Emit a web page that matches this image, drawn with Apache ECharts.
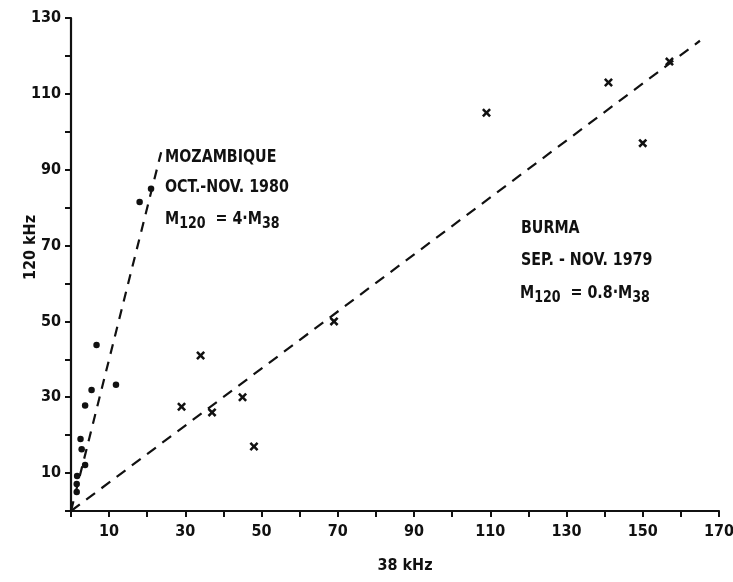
<!DOCTYPE html>
<html>
<head>
<meta charset="utf-8">
<script src="https://cdn.jsdelivr.net/npm/echarts@6/dist/echarts.min.js"></script>
<style>
  html, body { margin: 0; padding: 0; background: #fff; }
  #chart { width: 733px; height: 582px; }
</style>
</head>
<body>
<div id="chart"></div>
<script>
// Mozambique samples (dots): 38 kHz vs 120 kHz
const mozX = [1.5, 1.5, 1.6, 3.7, 2.8, 2.5, 3.7, 5.4, 6.7, 11.8, 18, 21];
const mozY = [5.0, 7.1, 9.2, 12.1, 16.3, 19.0, 27.8, 31.9, 43.8, 33.3, 81.5, 85];

// Burma samples (crosses)
const burmaX = [29, 34, 37, 45, 48, 69, 109, 141, 150, 157];
const burmaY = [27.5, 41, 26, 30, 17, 50, 105, 113, 97, 118.5];

// Dashed reference lines, end points in data units
const mozLineX = [0, 24];
const mozLineY = [0, 96];
const burmaLineX = [0, 165];
const burmaLineY = [0, 124];

// Axis ranges
const xMax = 170;
const yMax = 130;
const tickStep = 10;

const pairs = (xs, ys) => xs.map((x, i) => [x, ys[i]]);

const FONT = "'DejaVu Sans Condensed', 'DejaVu Sans', sans-serif";
const INK = '#111';

const crossPath = 'path://M0,2L2,0L5,3L8,0L10,2L7,5L10,8L8,10L5,7L2,10L0,8L3,5Z';

function oddTens(v) {
  return (Math.round(v) % 20 === 10) ? String(Math.round(v)) : '';
}

const NOTE_SIZE = 18;
const NOTE_SQUEEZE = 0.88;

const richStyles = {
  t: { fontFamily: FONT, fontWeight: 'bold', fontSize: NOTE_SIZE, fill: INK, color: INK },
  s: { fontFamily: FONT, fontWeight: 'bold', fontSize: 16, fill: INK, color: INK, padding: [10, 0, 0, 0] }
};

function note(left, top, text) {
  return {
    type: 'text', x: left, y: top, scaleX: NOTE_SQUEEZE,
    style: { text: text, fontFamily: FONT, fontWeight: 'bold', fontSize: NOTE_SIZE, fill: INK }
  };
}
function formula(left, top, mid) {
  return {
    type: 'text', x: left, y: top, scaleX: NOTE_SQUEEZE,
    style: {
      text: '{t|M}{s|120}{t|  = ' + mid + '·M}{s|38}',
      rich: richStyles
    }
  };
}

const chart = echarts.init(document.getElementById('chart'));
chart.setOption({
  animation: false,
  backgroundColor: '#fff',
  grid: { left: 71, right: 14, top: 18, bottom: 71, containLabel: false, outerBoundsMode: 'none' },
  xAxis: {
    type: 'value', min: 0, max: xMax, interval: tickStep,
    name: '38 kHz', nameLocation: 'middle', nameGap: 47, nameMoveOverlap: false,
    nameTextStyle: { fontFamily: FONT, fontWeight: 'bold', fontSize: 16, color: INK, padding: [0, 0, 0, 20] },
    axisLine: { lineStyle: { color: INK, width: 2.2 } },
    axisTick: { show: true, length: 6, lineStyle: { color: INK, width: 2 } },
    axisLabel: { formatter: oddTens, margin: 13, fontFamily: FONT, fontWeight: 'bold', fontSize: 16, color: INK },
    splitLine: { show: false }
  },
  yAxis: {
    type: 'value', min: 0, max: yMax, interval: tickStep,
    name: '120 kHz', nameLocation: 'middle', nameGap: 32, nameRotate: 90, nameMoveOverlap: false,
    nameTextStyle: { fontFamily: FONT, fontWeight: 'bold', fontSize: 16, color: INK, padding: [0, 0, 0, 34] },
    axisLine: { lineStyle: { color: INK, width: 2.2 } },
    axisTick: { show: true, length: 6, lineStyle: { color: INK, width: 2 } },
    axisLabel: { formatter: oddTens, margin: 10, fontFamily: FONT, fontWeight: 'bold', fontSize: 16, color: INK },
    splitLine: { show: false }
  },
  series: [
    {
      name: 'Mozambique fit', type: 'line', data: pairs(mozLineX, mozLineY),
      symbol: 'none', silent: true,
      lineStyle: { color: INK, width: 2.2, type: [10, 8] }
    },
    {
      name: 'Burma fit', type: 'line', data: pairs(burmaLineX, burmaLineY),
      symbol: 'none', silent: true,
      lineStyle: { color: INK, width: 2.2, type: [11, 8] }
    },
    {
      name: 'Mozambique', type: 'scatter', data: pairs(mozX, mozY),
      symbol: 'circle', symbolSize: 6.5,
      itemStyle: { color: INK, opacity: 1 }
    },
    {
      name: 'Burma', type: 'scatter', data: pairs(burmaX, burmaY),
      symbol: crossPath, symbolSize: 9,
      itemStyle: { color: INK, opacity: 1 }
    }
  ],
  graphic: [
    note(165, 148, 'MOZAMBIQUE'),
    note(165, 178, 'OCT.-NOV. 1980'),
    formula(165, 206, '4'),
    note(521, 219, 'BURMA'),
    note(521, 251, 'SEP. - NOV. 1979'),
    formula(520, 280, '0.8')
  ]
});
</script>
</body>
</html>
